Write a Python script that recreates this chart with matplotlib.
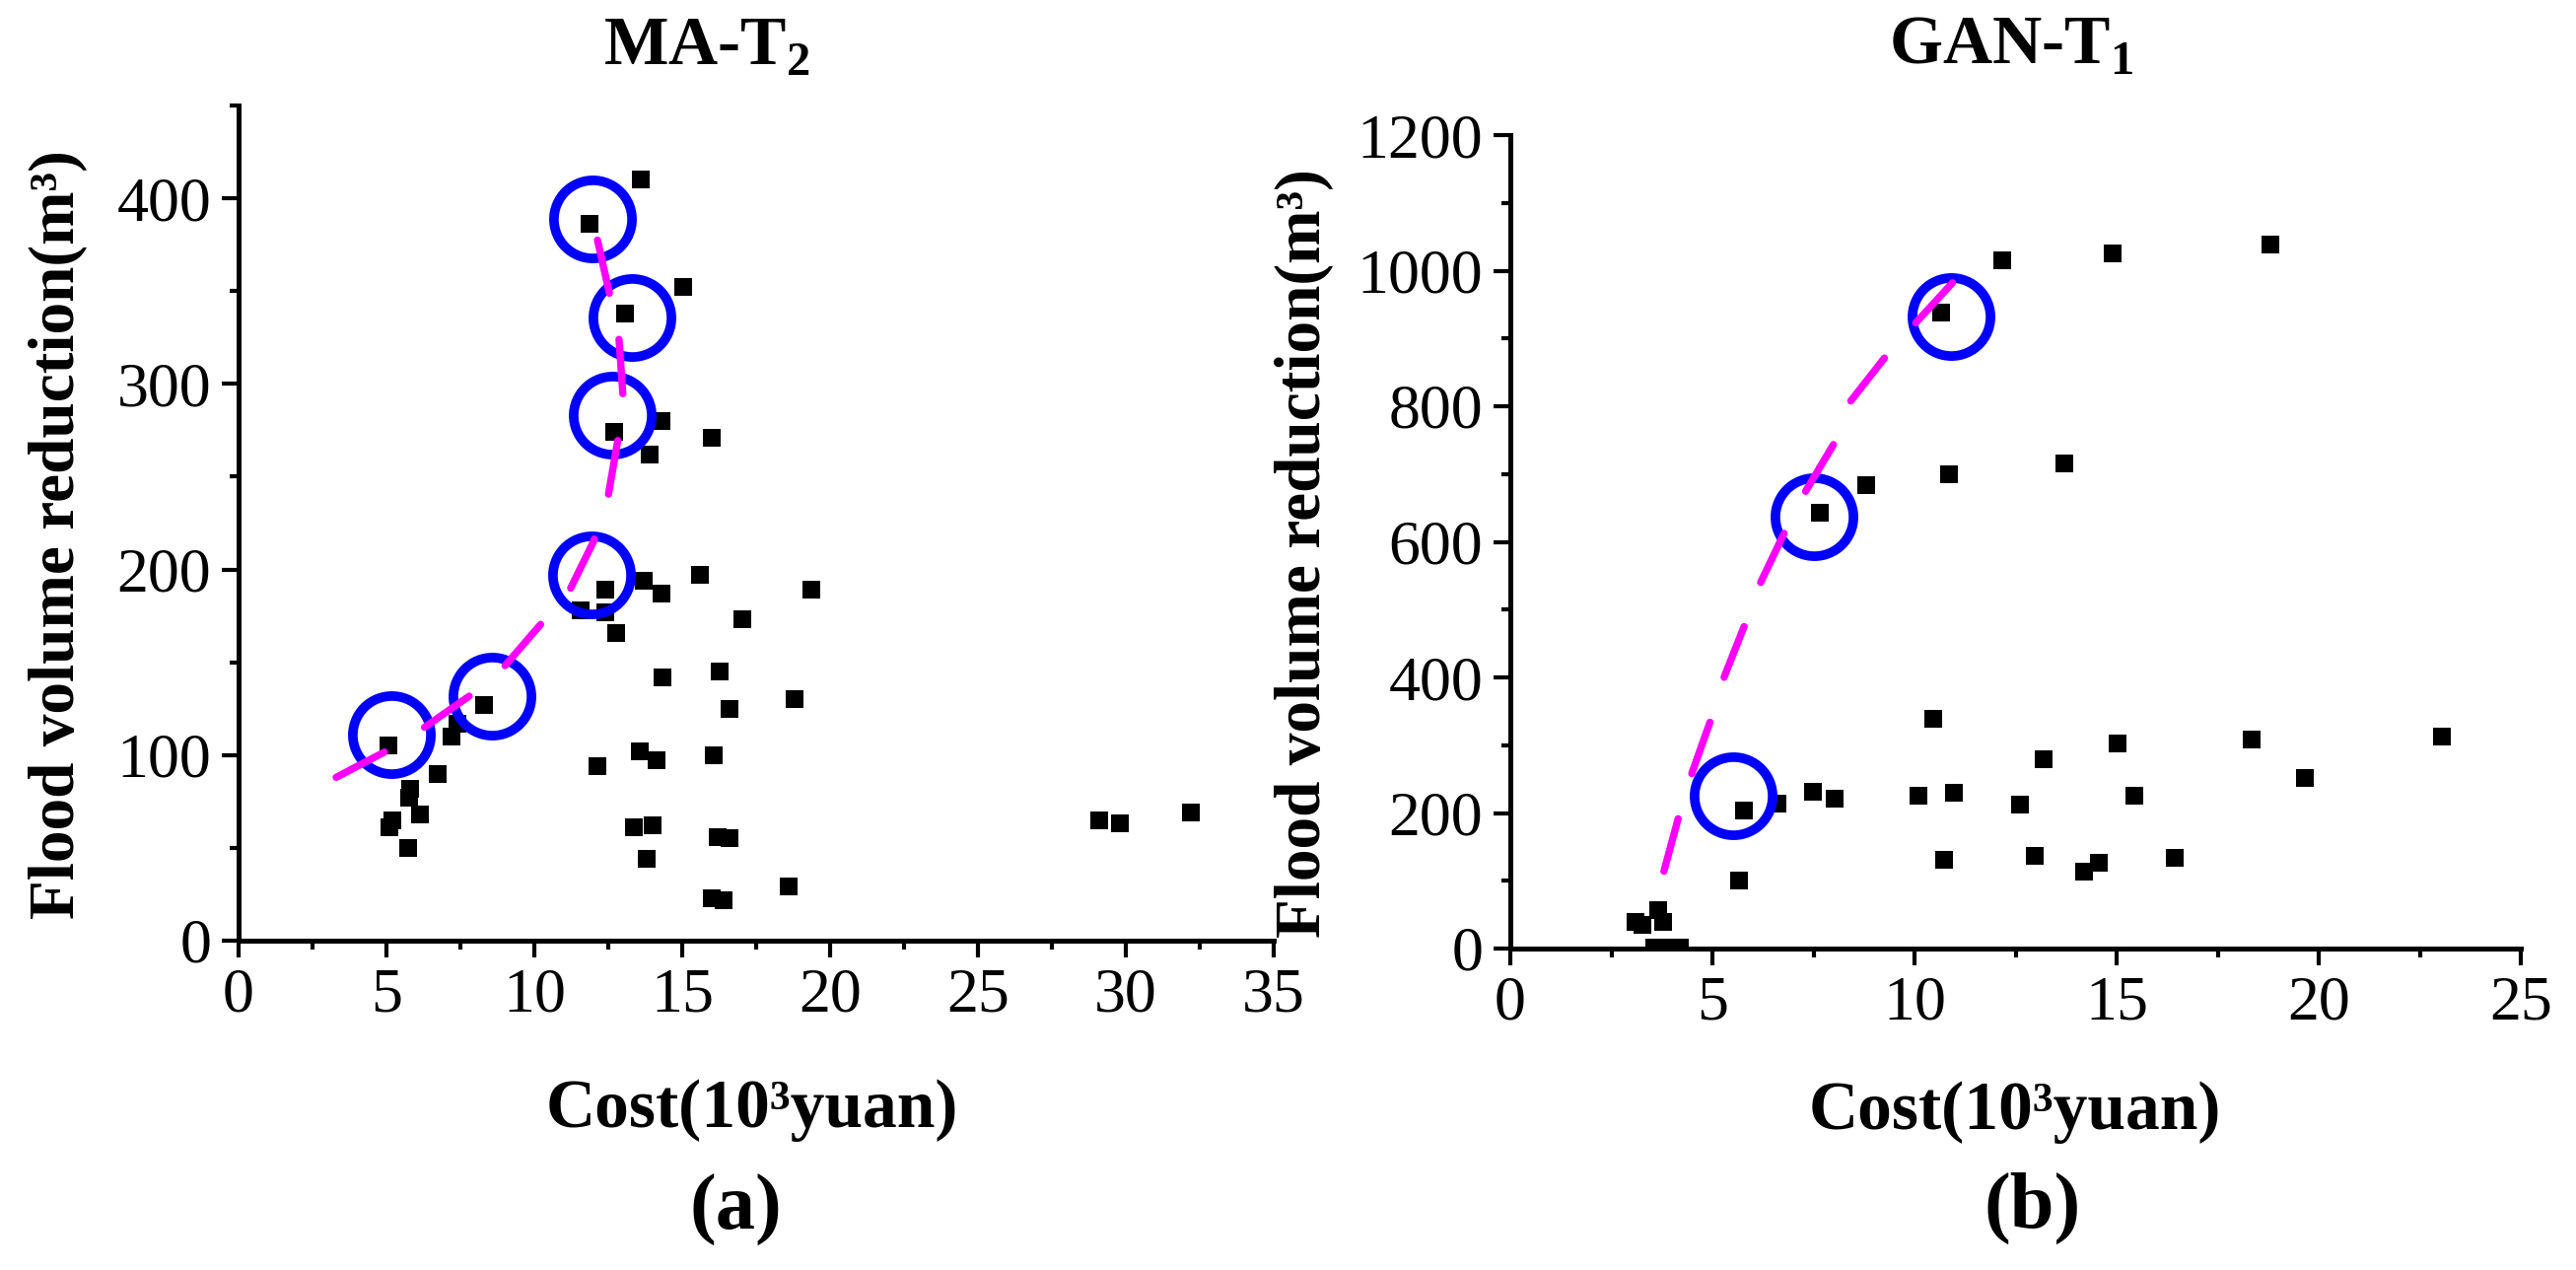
import matplotlib
matplotlib.use("Agg")
from matplotlib import pyplot as plt
from matplotlib.ticker import MultipleLocator

plt.rcParams['font.family'] = ['Liberation Serif', 'DejaVu Serif']
plt.rcParams['mathtext.fontset'] = 'custom'
plt.rcParams['mathtext.rm'] = 'Liberation Serif'
plt.rcParams['mathtext.bf'] = 'Liberation Serif:bold'

# (a) MA-T2 scatter: cost (10^3 yuan) vs flood volume reduction (m^3)
ma_cost = [13.6, 11.87, 15.03, 13.05, 14.3, 16.0, 12.7, 13.9,
           13.7, 15.6, 19.35, 12.4, 14.3, 11.55, 12.4, 12.75, 17.03,
           14.34, 16.27, 16.6, 18.8, 8.3, 7.2, 7.4,
           5.08, 6.72, 5.8, 5.75, 6.14, 5.2, 5.1, 5.72,
           12.14, 13.57, 14.13, 16.06, 13.37, 14.0, 13.8, 16.2, 16.6,
           16.0, 16.4, 18.6, 29.1, 29.8, 32.2]
ma_vol = [410, 386, 352, 338, 280, 271, 274, 262,
          194, 197, 189, 189, 187, 178, 177, 166, 173,
          142, 145, 125, 130, 127, 110, 117,
          105, 90, 82, 77, 68, 65, 61, 50,
          94, 102, 97, 100, 61, 62, 44, 56, 55,
          23, 22, 29, 65, 63, 69]
ma_pick_cost = [5.17, 8.57, 11.93, 12.63, 13.29, 11.95]
ma_pick_vol = [111, 132, 197, 283, 336, 389]
ma_fit_cost = [3.3, 5.1, 6.2, 8.0, 9.0, 10.3, 11.2, 12.0, 12.5, 12.85, 13.0, 12.85, 12.55, 12.1]
ma_fit_vol = [88, 103, 114, 134, 148, 172, 189, 215, 240, 272, 293, 327, 348, 380]

# (b) GAN-T1 scatter
gan_cost = [18.8, 14.9, 12.18, 10.65, 13.71, 10.86, 8.8, 7.65,
            10.47, 23.06, 18.33, 15.02, 13.2, 19.67, 7.48, 10.98, 15.43,
            10.09, 8.02, 12.62, 6.61, 5.77, 5.65, 10.72, 12.97, 16.45,
            14.2, 14.57, 3.1, 3.27, 3.65, 3.79, 3.55, 3.9, 4.2]
gan_vol = [1038, 1025, 1016, 938, 715, 700, 683, 643,
           339, 313, 308, 302, 280, 252, 231, 230, 226,
           225, 221, 213, 214, 204, 100, 131, 137, 134,
           114, 127, 39, 35, 57, 39, 2, 2, 2]
gan_pick_cost = [5.5, 7.5, 10.9]
gan_pick_vol = [225, 637, 933]
gan_fit_cost = [3.8, 4.2, 4.5, 5.0, 5.3, 5.85, 6.2, 6.85, 7.3, 8.1, 8.4, 9.4, 11.0]
gan_fit_vol = [114, 202, 260, 344, 402, 485, 541, 622, 674, 754, 806, 882, 986]

fig = plt.figure(figsize=(26.13, 12.88), dpi=100)
W, H = 2613.0, 1288.0


def fx(px):
    return px / W


def fy(py):
    return 1 - py / H


def panel(rect, cost, vol, pcost, pvol, fcost, fvol, xmax, xmaj, ymax, ymaj):
    ax = fig.add_axes(rect)
    ax.plot(cost, vol, 's', color='black', ms=13, mew=0, zorder=3)
    ax.plot(pcost, pvol, 'o', mfc='none', mec='#0000ff', ms=57, mew=7, zorder=4)
    ax.plot(fcost, fvol, color='#ff00ff', lw=5.3, dashes=(7.5, 6.5),
            dash_capstyle='round', solid_capstyle='round', zorder=5)
    ax.set_xlim(0, xmax)
    ax.set_ylim(0, ymax)
    ax.xaxis.set_major_locator(MultipleLocator(xmaj))
    ax.xaxis.set_minor_locator(MultipleLocator(xmaj / 2))
    ax.yaxis.set_major_locator(MultipleLocator(ymaj))
    ax.yaxis.set_minor_locator(MultipleLocator(ymaj / 2))
    for s in ['top', 'right']:
        ax.spines[s].set_visible(False)
    for s in ['left', 'bottom']:
        ax.spines[s].set_linewidth(3.6)
    ax.tick_params(which='major', direction='out', length=12, width=3, labelsize=46, pad=8)
    ax.tick_params(which='minor', direction='out', length=6.5, width=3)
    return ax


ax1 = panel([fx(242), fy(954), 1050 / W, 847 / H], ma_cost, ma_vol,
            ma_pick_cost, ma_pick_vol, ma_fit_cost, ma_fit_vol, 35, 5, 450, 100)
ax2 = panel([fx(1532), fy(962), 1025 / W, 825 / H], gan_cost, gan_vol,
            gan_pick_cost, gan_pick_vol, gan_fit_cost, gan_fit_vol, 25, 5, 1200, 200)
ax1.set_yticks([0, 100, 200, 300, 400])

fig.text(fx(717), fy(49), r"MA-T$_{\mathbf{2}}$", ha='center', va='center',
         fontsize=50, fontweight='bold')
fig.text(fx(2040), fy(48), r"GAN-T$_{\mathbf{1}}$", ha='center', va='center',
         fontsize=50, fontweight='bold')

for x, y in [(59, 542), (1323, 561)]:
    fig.text(fx(x), fy(y), "Flood volume reduction(m³)", rotation=90,
             ha='center', va='center', fontsize=47, fontweight='bold')
for x, y in [(763, 1126), (2044, 1128)]:
    fig.text(fx(x), fy(y), "Cost(10³yuan)", ha='center', va='center',
             fontsize=50, fontweight='bold')

fig.text(fx(746), fy(1227), "(a)", ha='center', va='center', fontsize=58, fontweight='bold')
fig.text(fx(2062), fy(1225), "(b)", ha='center', va='center', fontsize=58, fontweight='bold')

fig.savefig("out.png", dpi=100)
